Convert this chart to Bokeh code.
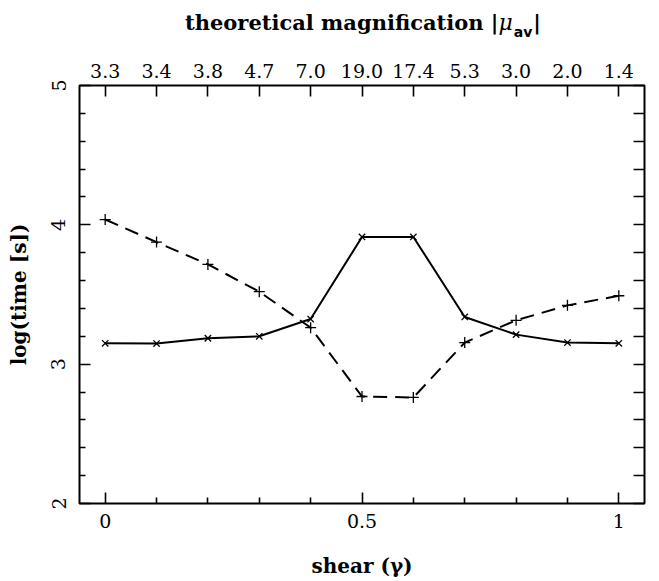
from bokeh.plotting import figure
from bokeh.models import LinearAxis, FixedTicker, Range1d, Div
from bokeh.layouts import column
from bokeh.embed import file_html
from bokeh.resources import INLINE

# ---- data ----
shear = [0.0, 0.1, 0.2, 0.3, 0.4, 0.5, 0.6, 0.7, 0.8, 0.9, 1.0]
log_time_solid = [3.150, 3.148, 3.186, 3.200, 3.324, 3.913, 3.913, 3.339, 3.212, 3.155, 3.150]
log_time_dashed = [4.038, 3.876, 3.716, 3.520, 3.262, 2.768, 2.761, 3.155, 3.315, 3.422, 3.491]
magnification = ["3.3", "3.4", "3.8", "4.7", "7.0", "19.0", "17.4", "5.3", "3.0", "2.0", "1.4"]
bottom_ticks = [0, 0.5, 1]
bottom_minor = [0.1, 0.2, 0.3, 0.4, 0.6, 0.7, 0.8, 0.9]
left_ticks = [2, 3, 4, 5]
left_minor = [2.2, 2.4, 2.6, 2.8, 3.2, 3.4, 3.6, 3.8, 4.2, 4.4, 4.6, 4.8]

W, H = 659, 581
TH = 40                      # height of the title strip above the figure
FL, FR, FT, FB = 79, 644, 85, 503
XR = (-0.05, 1.05)
YR = (2, 5)

SERIF = "DejaVu Serif"
TICK_FS = "19px"
LABEL_FS = "20px"

p = figure(width=W, height=H - TH, output_backend="svg", toolbar_location=None,
           x_range=Range1d(*XR), y_range=Range1d(*YR),
           x_axis_location=None, y_axis_location=None,
           min_border_left=FL, min_border_right=W - FR,
           min_border_top=FT - TH, min_border_bottom=H - FB, margin=0)
p.grid.visible = False
p.outline_line_color = "black"
p.outline_line_width = 2
p.background_fill_color = "white"
p.border_fill_color = "white"


def style_axis(ax, major_in, minor_in):
    ax.axis_line_color = None
    ax.major_tick_in = major_in
    ax.major_tick_out = 0
    ax.minor_tick_in = minor_in
    ax.minor_tick_out = 0
    ax.major_tick_line_width = 1.6
    ax.minor_tick_line_width = 1.6
    ax.major_tick_line_color = "black"
    ax.minor_tick_line_color = "black"
    ax.major_label_text_font = SERIF
    ax.major_label_text_font_size = TICK_FS
    ax.major_label_text_color = "black"
    ax.axis_label_text_font = SERIF
    ax.axis_label_text_font_size = LABEL_FS
    ax.axis_label_text_font_style = "bold"
    ax.axis_label_text_color = "black"


bottom = LinearAxis(ticker=FixedTicker(ticks=bottom_ticks, minor_ticks=bottom_minor))
style_axis(bottom, 11, 6)
bottom.major_label_overrides = {0: "0", 0.5: "0.5", 1: "1"}
bottom.major_label_standoff = 10
bottom.axis_label = "shear (γ)"
bottom.axis_label_standoff = 23
p.add_layout(bottom, "below")

left = LinearAxis(ticker=FixedTicker(ticks=left_ticks, minor_ticks=left_minor))
style_axis(left, 11, 6)
left.major_label_orientation = "vertical"
left.major_label_standoff = 14
left.axis_label = "log(time [s])"
left.axis_label_standoff = 18
p.add_layout(left, "left")

top_ticks = [round(v, 1) for v in shear]
top = LinearAxis(ticker=FixedTicker(ticks=top_ticks, minor_ticks=[]))
style_axis(top, 11, 0)
top.major_label_overrides = {t: m for t, m in zip(top_ticks, magnification)}
top.major_label_standoff = 8
p.add_layout(top, "above")

right_ticks = [round(2 + 0.2 * i, 1) for i in range(16)]
right = LinearAxis(ticker=FixedTicker(ticks=right_ticks, minor_ticks=[]))
style_axis(right, 11, 0)
right.major_label_text_color = None
right.major_label_text_font_size = "1px"
p.add_layout(right, "right")

# ---- series ----
p.line(shear, log_time_solid, line_color="black", line_width=2)
p.scatter(shear, log_time_solid, marker="x", size=9, line_color="black", line_width=1.3)
p.line(shear, log_time_dashed, line_color="black", line_width=2, line_dash="14 8")
p.scatter(shear, log_time_dashed, marker="cross", size=11, line_color="black", line_width=1.3)

# ---- top title (mixed styles: italic mu, bold sans subscript) ----
title_html = (
    "<div style=\"font-family:'DejaVu Serif';font-size:21px;font-weight:bold;"
    "color:black;white-space:nowrap;line-height:24px;padding-left:185px;padding-top:11px;\">"
    "theoretical magnification |"
    "<span style=\"font-style:italic;font-weight:normal;font-size:22px;\">μ</span>"
    "<span style=\"font-family:'DejaVu Sans';font-size:14px;font-weight:bold;"
    "position:relative;top:7px;margin-left:1px;\">av</span>"
    "<span style=\"margin-left:1px;\">|</span></div>"
)
title_div = Div(text=title_html, width=W, height=TH, margin=0,
                styles={"background-color": "white"})

layout = column(title_div, p, spacing=0, margin=0)

open("out.html", "w").write(file_html(layout, INLINE))
